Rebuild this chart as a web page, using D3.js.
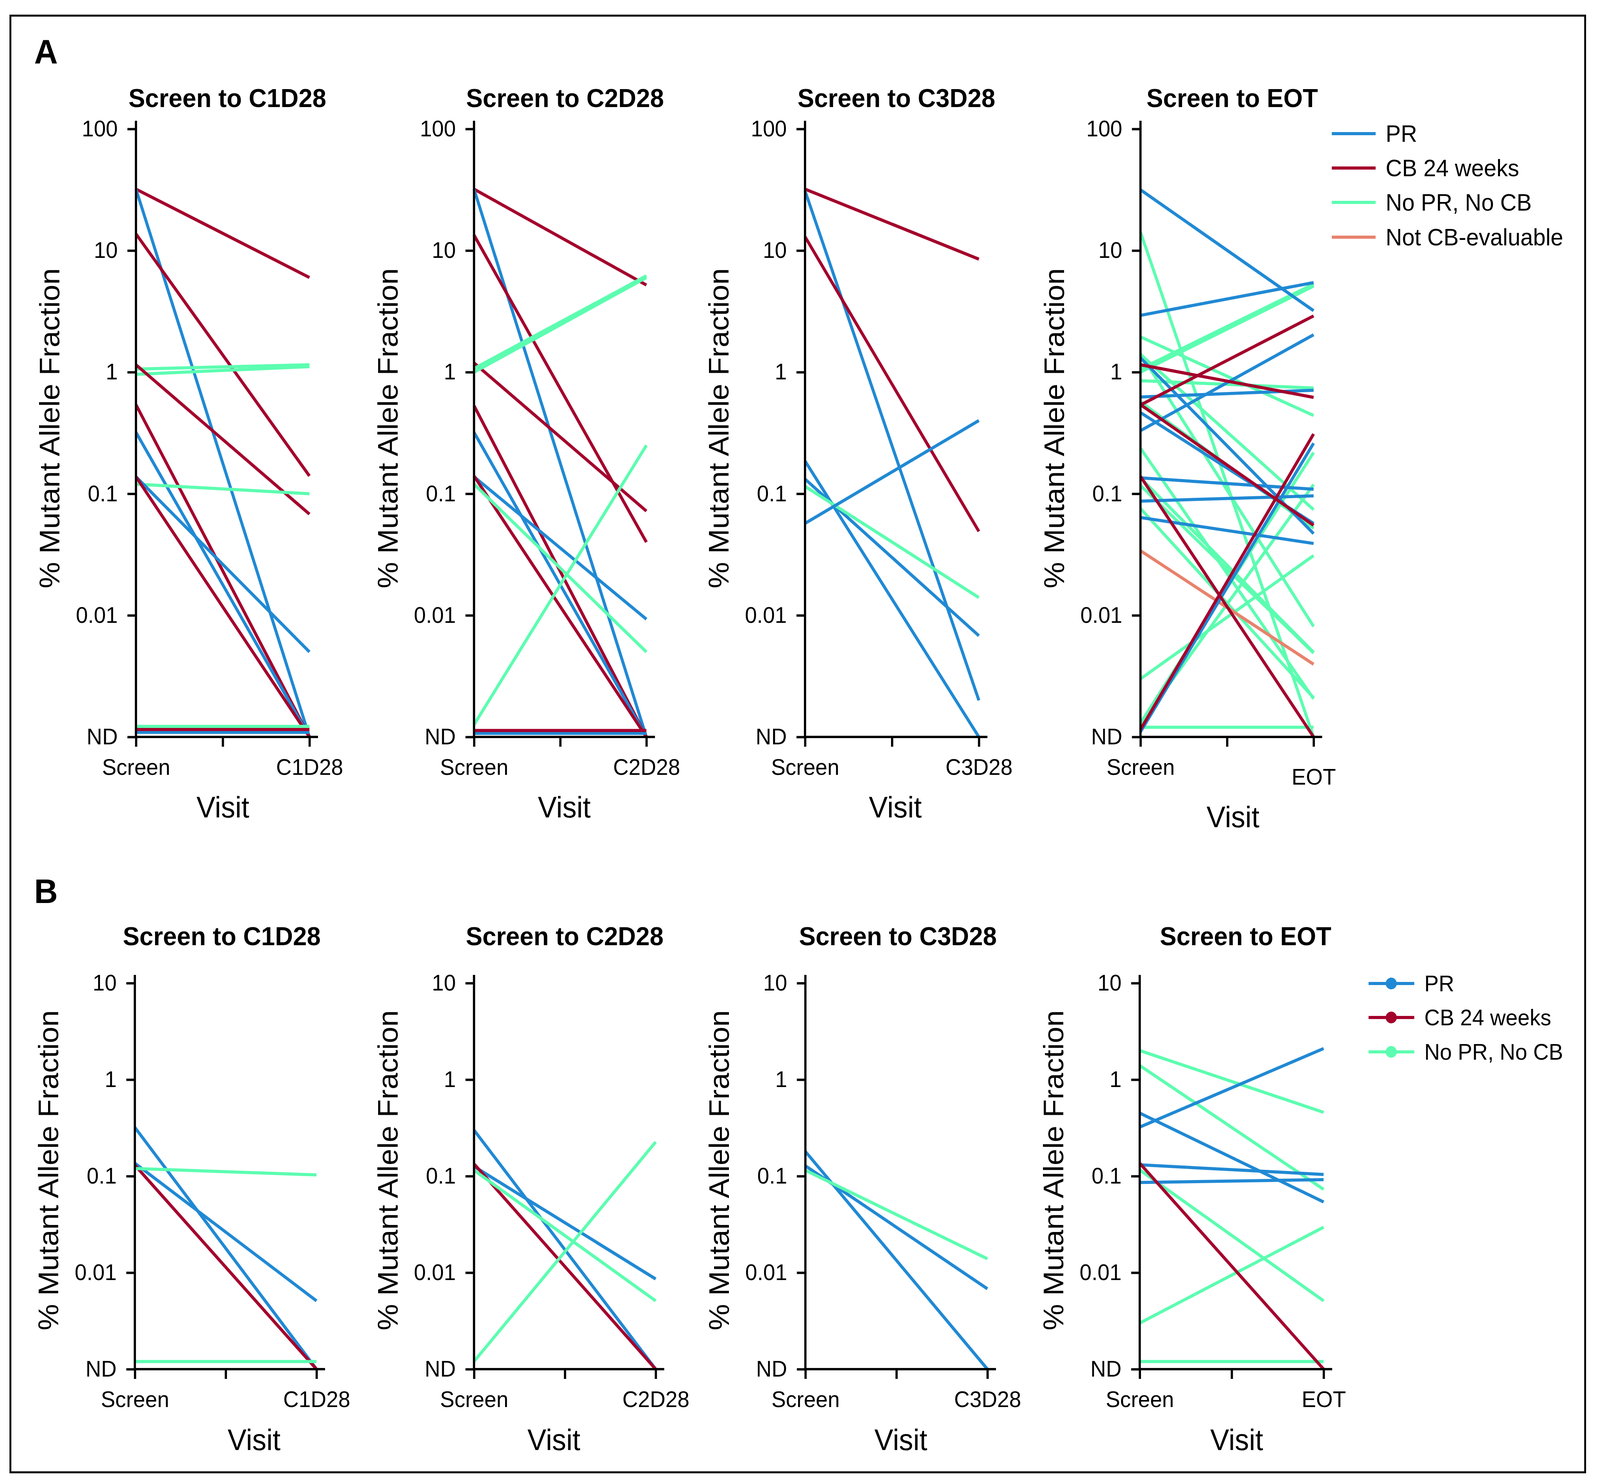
<!DOCTYPE html>
<html><head><meta charset="utf-8">
<script src="https://cdn.jsdelivr.net/npm/d3@7"></script>
<style>
html,body{margin:0;padding:0;background:#fff;overflow:hidden}
svg{display:block;width:100vw;height:100vh}
text{font-family:"Liberation Sans",Arial,Helvetica,sans-serif;fill:#000}
</style>
</head><body>
<svg id="c" viewBox="0 0 4307 3780" preserveAspectRatio="none"></svg>
<script>
const ND = 0.001;
const groupNames = ["PR", "CB 24 weeks", "No PR, No CB", "Not CB-evaluable"];
const groupColors = ["#2089d4", "#a4002c", "#5cfdb0", "#e8826c"];
const yTicksA = [100, 10, 1, 0.1, 0.01, ND];
const yTickLabelsA = ["100", "10", "1", "0.1", "0.01", "ND"];
const yTicksB = [10, 1, 0.1, 0.01, ND];
const yTickLabelsB = ["10", "1", "0.1", "0.01", "ND"];
const visitLabels = [["Screen", "C1D28"], ["Screen", "C2D28"], ["Screen", "C3D28"], ["Screen", "EOT"]];
const titles = ["Screen to C1D28", "Screen to C2D28", "Screen to C3D28", "Screen to EOT"];

// rows: [group index, % MAF at Screen, % MAF at follow-up visit]
const a1 = [
  [1, 32, 6.0], [0, 32, ND], [1, 13.7, 0.14], [2, 0.96, 1.11], [2, 1.06, 1.15],
  [1, 1.15, 0.068], [1, 0.54, ND], [0, 0.32, ND], [2, 0.12, 0.10], [0, 0.138, 0.005],
  [1, 0.138, ND], [0, 0.00109, 0.00109], [1, 0.00115, 0.00115], [2, 0.00122, 0.00122]
];
const a2 = [
  [1, 32, 5.2], [0, 32, ND], [1, 13.4, 0.04], [1, 1.19, 0.072], [2, 1.0, 6.0],
  [2, 1.07, 6.2], [1, 0.53, ND], [0, 0.32, ND], [0, 0.138, 0.0093], [1, 0.14, ND],
  [2, 0.12, 0.005], [2, 0.00126, 0.25], [0, 0.00107, 0.00107], [1, 0.00113, 0.00113]
];
const a3 = [
  [1, 32, 8.5], [0, 31, 0.002], [1, 13, 0.049], [0, 0.186, ND],
  [0, 0.132, 0.0068], [2, 0.115, 0.014], [0, 0.057, 0.40]
];
const a4 = [
  [2, 14.2, ND], [2, 1.95, 0.44], [2, 1.0, 5.1], [2, 1.06, 5.3], [2, 0.85, 0.74],
  [2, 1.42, 0.0081], [2, 1.40, 0.074], [2, 0.57, 0.052], [2, 0.237, 0.00206],
  [2, 0.135, 0.00497], [2, 0.117, 0.0049], [2, 0.0757, 0.0021], [2, 0.003, 0.031],
  [2, 0.0013, 0.218], [2, 0.00128, 0.119], [2, 0.0012, 0.0012],
  [3, 0.034, 0.00396],
  [0, 31.6, 3.2], [0, 2.93, 5.45], [0, 1.31, 0.047], [0, 0.625, 0.71], [0, 0.33, 2.03],
  [0, 0.465, 0.057], [0, 0.135, 0.109], [0, 0.087, 0.096], [0, 0.0637, 0.039], [0, 0.0011, 0.26],
  [1, 1.15, 0.62], [1, 0.537, 2.9], [1, 0.54, 0.055], [1, 0.139, ND], [1, 0.00115, 0.31]
];
const b1 = [
  [0, 0.32, ND], [0, 0.136, 0.0051], [1, 0.13, ND], [2, 0.12, 0.103], [2, 0.0012, 0.0012]
];
const b2 = [
  [0, 0.30, ND], [0, 0.126, 0.0086], [1, 0.134, ND], [2, 0.115, 0.0051], [2, 0.0012, 0.226]
];
const b3 = [
  [0, 0.18, ND], [0, 0.128, 0.0068], [2, 0.115, 0.0139]
];
const b4 = [
  [2, 2.0, 0.458], [2, 1.40, 0.073], [2, 0.116, 0.0051], [2, 0.003, 0.0296], [2, 0.0012, 0.0012],
  [0, 0.322, 2.1], [0, 0.45, 0.054], [0, 0.131, 0.104], [0, 0.086, 0.092],
  [1, 0.136, ND]
];

// ---------- layout (positions only) ----------
const svg = d3.select("#c");
svg.append("rect").attr("x", 28).attr("y", 40).attr("width", 4239).attr("height", 3728)
  .attr("fill", "none").attr("stroke", "#000").attr("stroke-width", 5);

const rowA = {top: 100, ticks: yTicksA, labels: yTickLabelsA, yt: 330, yb: 1886,
  x0: [366, 1276, 2167, 3070], x1: [833, 1740, 2635, 3536],
  titleX: [612, 1521, 2413, 3317], titleY: 274,
  visitX: [600, 1519, 2410, 3319], visitY: [2092, 2092, 2092, 2117],
  endDy: [0, 0, 0, 25], ylabY: 1096, data: [a1, a2, a3, a4]};
const rowB = {top: 10, ticks: yTicksB, labels: yTickLabelsB, yt: 2516, yb: 3504,
  x0: [363, 1276, 2168, 3068], x1: [852, 1765, 2658, 3563],
  titleX: [597, 1520, 2417, 3353], titleY: 2419,
  visitX: [684, 1491, 2425, 3329], visitY: [3711, 3711, 3711, 3711],
  endDy: [0, 0, 0, 0], ylabY: 2995, data: [b1, b2, b3, b4]};

function drawPanel(row, i) {
  const g = svg.append("g");
  const x0 = row.x0[i], x1 = row.x1[i];
  const y = d3.scaleLog().domain([ND, row.top]).range([row.yb, row.yt]);
  const x = d3.scaleLinear().domain([0, 1]).range([x0, x1]);

  g.append("g").selectAll("line").data(row.data[i]).join("line")
    .attr("x1", x(0)).attr("x2", x(1))
    .attr("y1", d => y(d[1])).attr("y2", d => y(d[2]))
    .attr("stroke", d => groupColors[d[0]]).attr("stroke-width", 8);

  const ya = d3.axisLeft(y).tickValues(row.ticks)
    .tickFormat((d, k) => row.labels[k]).tickSize(23).tickPadding(26).tickSizeOuter(0);
  const gy = g.append("g").attr("transform", `translate(${x0},0)`).call(ya);
  gy.select(".domain").attr("d", `M0,${row.yt - 21}V${row.yb}`);

  const vl = visitLabels[i];
  const xa = d3.axisBottom(x).tickValues([0, 0.5, 1])
    .tickFormat((d, k) => k === 0 ? vl[0] : (k === 2 ? vl[1] : ""))
    .tickSize(25).tickPadding(31).tickSizeOuter(0);
  const gx = g.append("g").attr("transform", `translate(0,${row.yb})`).call(xa);
  gx.select(".domain").attr("d", `M${x0},0H${x1 + 23}`);
  gx.selectAll(".tick text").filter((d, k) => k === 2)
    .attr("transform", `translate(0,${row.endDy[i]})`);

  [gy, gx].forEach(a => {
    a.selectAll("path,line").attr("stroke", "#000").attr("stroke-width", 6);
    a.selectAll("text").attr("font-size", 58).attr("fill", "#000")
      .attr("font-family", "Liberation Sans, Arial, sans-serif");
  });

  g.append("text").attr("x", row.titleX[i]).attr("y", row.titleY)
    .attr("text-anchor", "middle").attr("font-size", 67).attr("font-weight", "bold")
    .text(titles[i]);
  g.append("text").attr("x", row.visitX[i]).attr("y", row.visitY[i])
    .attr("text-anchor", "middle").attr("font-size", 76).text("Visit");
  g.append("text").attr("transform", `translate(${x0 - 206},${row.ylabY}) rotate(-90)`)
    .attr("text-anchor", "middle").attr("font-size", 76).text("% Mutant Allele Fraction");
}
for (let i = 0; i < 4; i++) { drawPanel(rowA, i); drawPanel(rowB, i); }

svg.append("text").attr("x", 92).attr("y", 162).attr("font-size", 88).attr("font-weight", "bold").text("A");
svg.append("text").attr("x", 92).attr("y", 2311).attr("font-size", 88).attr("font-weight", "bold").text("B");

// legend A
const legA = svg.append("g");
const legAY = [342, 430, 518, 607];
groupNames.forEach((n, k) => {
  legA.append("line").attr("x1", 3585).attr("x2", 3703).attr("y1", legAY[k]).attr("y2", legAY[k])
    .attr("stroke", groupColors[k]).attr("stroke-width", 8);
  legA.append("text").attr("x", 3730).attr("y", legAY[k]).attr("dy", "0.35em")
    .attr("font-size", 61).text(n);
});
// legend B
const legB = svg.append("g");
const legBY = [2517, 2604, 2692];
groupNames.slice(0, 3).forEach((n, k) => {
  legB.append("line").attr("x1", 3684).attr("x2", 3807).attr("y1", legBY[k]).attr("y2", legBY[k])
    .attr("stroke", groupColors[k]).attr("stroke-width", 8);
  legB.append("circle").attr("cx", 3745).attr("cy", legBY[k]).attr("r", 15).attr("fill", groupColors[k]);
  legB.append("text").attr("x", 3834).attr("y", legBY[k]).attr("dy", "0.35em")
    .attr("font-size", 58).text(n);
});
</script>
</body></html>
